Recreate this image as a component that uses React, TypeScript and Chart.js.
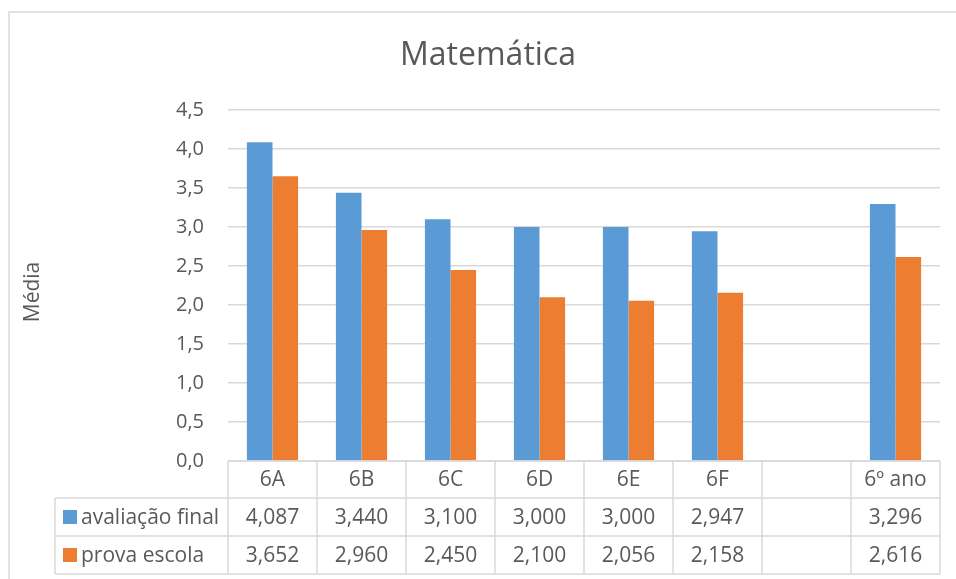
import React, { useEffect, useRef } from "react";
import { Chart, registerables } from "chart.js";

Chart.register(...registerables);

// ---- data ----
const categories = ["6A", "6B", "6C", "6D", "6E", "6F", "", "6º ano"];
const avaliacaoFinal: (number | null)[] = [4.087, 3.44, 3.1, 3.0, 3.0, 2.947, null, 3.296];
const provaEscola: (number | null)[] = [3.652, 2.96, 2.45, 2.1, 2.056, 2.158, null, 2.616];
const seriesNames = ["avaliação final", "prova escola"];
const seriesColors = ["#5B9BD5", "#ED7D31"];
const chartTitle = "Matemática";
const yAxisTitle = "Média";
const yMin = 0;
const yMax = 4.5;
const yStep = 0.5;

const FONT = "'Open Sans', 'Noto Sans', sans-serif";
const TEXT = "#595959";
const LINE = "#D9D9D9";

const fmtTick = (v: number) => v.toFixed(1).replace(".", ",");
const fmtVal = (v: number | null) => (v == null ? "" : v.toFixed(3).replace(".", ","));

const tablePlugin = {
  id: "dataTableAndDecor",
  afterDraw(chart: any) {
    const ctx: CanvasRenderingContext2D = chart.ctx;
    const { left, right, bottom } = chart.chartArea;
    const n = categories.length;
    const colW = (right - left) / n;
    const tableLeft = 55;
    const rows = [bottom, bottom + 37, bottom + 75, bottom + 113];

    ctx.save();
    ctx.strokeStyle = LINE;
    ctx.lineWidth = 1.5;
    // frame
    ctx.beginPath();
    ctx.moveTo(9, 600);
    ctx.lineTo(9, 12);
    ctx.lineTo(1000, 12);
    ctx.stroke();

    // horizontal table lines
    ctx.beginPath();
    ctx.moveTo(left, rows[0]);
    ctx.lineTo(right, rows[0]);
    for (let r = 1; r < rows.length; r++) {
      ctx.moveTo(tableLeft, rows[r]);
      ctx.lineTo(right, rows[r]);
    }
    // vertical lines
    for (let k = 0; k <= n; k++) {
      const x = left + k * colW;
      ctx.moveTo(x, rows[0]);
      ctx.lineTo(x, rows[3]);
    }
    ctx.moveTo(tableLeft, rows[1]);
    ctx.lineTo(tableLeft, rows[3]);
    ctx.stroke();

    // texts
    ctx.fillStyle = TEXT;
    ctx.font = `21px ${FONT}`;
    ctx.textBaseline = "middle";
    ctx.textAlign = "center";
    const xs = chart.scales.x;
    const seriesData = [avaliacaoFinal, provaEscola];
    for (let i = 0; i < n; i++) {
      const cx = xs.getPixelForValue(i);
      ctx.fillText(categories[i], cx, (rows[0] + rows[1]) / 2 + 1);
      for (let s = 0; s < seriesData.length; s++) {
        ctx.fillText(fmtVal(seriesData[s][i]), cx, (rows[s + 1] + rows[s + 2]) / 2 + 1);
      }
    }
    // legend keys in the table
    ctx.textAlign = "left";
    for (let s = 0; s < seriesNames.length; s++) {
      const cy = (rows[s + 1] + rows[s + 2]) / 2;
      ctx.fillStyle = seriesColors[s];
      ctx.fillRect(63, cy - 7, 14, 14);
      ctx.fillStyle = TEXT;
      ctx.fillText(seriesNames[s], 81, cy + 1);
    }

    // title
    ctx.textAlign = "center";
    ctx.textBaseline = "alphabetic";
    ctx.font = `32px ${FONT}`;
    ctx.fillText(chartTitle, 488, 65);

    // y axis title
    ctx.translate(33, 292);
    ctx.rotate(-Math.PI / 2);
    ctx.textBaseline = "middle";
    ctx.font = `21px ${FONT}`;
    ctx.fillText(yAxisTitle, 0, 0);
    ctx.restore();
  },
};

export default function App() {
  const ref = useRef<HTMLCanvasElement | null>(null);
  useEffect(() => {
    if (!ref.current) return;
    const chart = new Chart(ref.current, {
      type: "bar",
      data: {
        labels: categories,
        datasets: [
          {
            label: seriesNames[0],
            data: avaliacaoFinal,
            backgroundColor: seriesColors[0],
            categoryPercentage: 0.575,
            barPercentage: 1,
          },
          {
            label: seriesNames[1],
            data: provaEscola,
            backgroundColor: seriesColors[1],
            categoryPercentage: 0.575,
            barPercentage: 1,
          },
        ],
      },
      options: {
        responsive: false,
        animation: false,
        devicePixelRatio: 1,
        layout: { padding: { top: 110, bottom: 118, left: 0, right: 16 } },
        plugins: {
          legend: { display: false },
          title: { display: false },
          tooltip: { enabled: false },
        },
        scales: {
          x: { display: false },
          y: {
            min: yMin,
            max: yMax,
            ticks: {
              stepSize: yStep,
              padding: 24,
              color: TEXT,
              font: { family: FONT, size: 20 },
              callback: (v: any) => fmtTick(Number(v)),
            },
            grid: { color: LINE, lineWidth: 1.5, drawTicks: false },
            border: { display: false },
            afterFit: (scale: any) => {
              scale.width = 228;
            },
          },
        },
      },
      plugins: [tablePlugin],
    });
    return () => chart.destroy();
  }, []);
  return (
    <div style={{ position: "fixed", left: 0, top: 0, width: 956, height: 579, background: "#fff" }}>
      <canvas ref={ref} width={956} height={579} />
    </div>
  );
}
